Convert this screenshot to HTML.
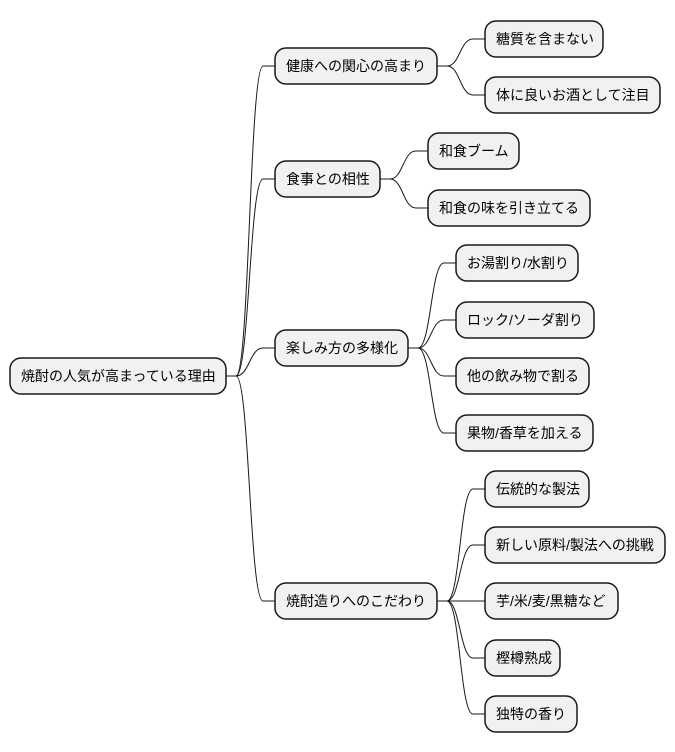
<!DOCTYPE html>
<html><head><meta charset="utf-8"><style>
html,body{margin:0;padding:0;background:#fff;}
svg{display:block;}
text{font-family:"Liberation Sans","Noto Sans CJK JP",sans-serif;font-size:14px;fill:#000;}
rect{fill:#f1f1f1;stroke:#181818;stroke-width:1.5;}
path{fill:none;stroke:#181818;stroke-width:1;}
</style></head><body>
<svg width="675" height="752" viewBox="0 0 675 752" xmlns="http://www.w3.org/2000/svg">
<g id="edges"></g>
<rect x="10" y="358" width="216" height="36" rx="11"/>
<text x="21" y="381">焼酎の人気が高まっている理由</text>
<rect x="275" y="48" width="162" height="36" rx="11"/><text x="286" y="71">健康への関心の高まり</text>
<rect x="275" y="161" width="105" height="36" rx="11"/><text x="286" y="184">食事との相性</text>
<rect x="275" y="330" width="133" height="36" rx="11"/><text x="286" y="353">楽しみ方の多様化</text>
<rect x="275" y="583" width="162" height="36" rx="11"/><text x="286" y="606">焼酎造りへのこだわり</text>
<rect x="485" y="21" width="118" height="36" rx="11"/><text x="496" y="44">糖質を含まない</text>
<rect x="485" y="77" width="175" height="36" rx="11"/><text x="496" y="100">体に良いお酒として注目</text>
<rect x="428" y="133" width="91" height="36" rx="11"/><text x="439" y="156">和食ブーム</text>
<rect x="428" y="190" width="162" height="36" rx="11"/><text x="439" y="213">和食の味を引き立てる</text>
<rect x="456" y="245" width="122" height="36" rx="11"/><text x="467" y="268">お湯割り/水割り</text>
<rect x="456" y="302" width="138" height="36" rx="11"/><text x="467" y="325">ロック/ソーダ割り</text>
<rect x="456" y="358" width="133" height="36" rx="11"/><text x="467" y="381">他の飲み物で割る</text>
<rect x="456" y="415" width="137" height="36" rx="11"/><text x="467" y="438">果物/香草を加える</text>
<rect x="485" y="471" width="104" height="36" rx="11"/><text x="496" y="494">伝統的な製法</text>
<rect x="485" y="527" width="180" height="36" rx="11"/><text x="496" y="550">新しい原料/製法への挑戦</text>
<rect x="485" y="583" width="133" height="36" rx="11"/><text x="496" y="606">芋/米/麦/黒糖など</text>
<rect x="485" y="640" width="75" height="36" rx="11"/><text x="496" y="663">樫樽熟成</text>
<rect x="485" y="696" width="92" height="36" rx="11"/><text x="496" y="719">独特の香り</text>
</svg>
<script>
(function(){
var g=document.getElementById('edges');
function e(px,py,cx,cy){
 var a=px+10,b=cx-12,m=(a+b)/2;
 var d='M'+px+' '+py+' L'+a+' '+py+' C'+m+' '+py+' '+m+' '+cy+' '+b+' '+cy+' L'+cx+' '+cy;
 var p=document.createElementNS('http://www.w3.org/2000/svg','path');
 p.setAttribute('d',d);g.appendChild(p);
}
[66,179,348,601].forEach(function(y){e(226,376,275,y);});
[39,95].forEach(function(y){e(437,66,485,y);});
[151,208].forEach(function(y){e(380,179,428,y);});
[263,320,376,433].forEach(function(y){e(408,348,456,y);});
[489,545,601,658,714].forEach(function(y){e(437,601,485,y);});
})();
</script>
</body></html>
